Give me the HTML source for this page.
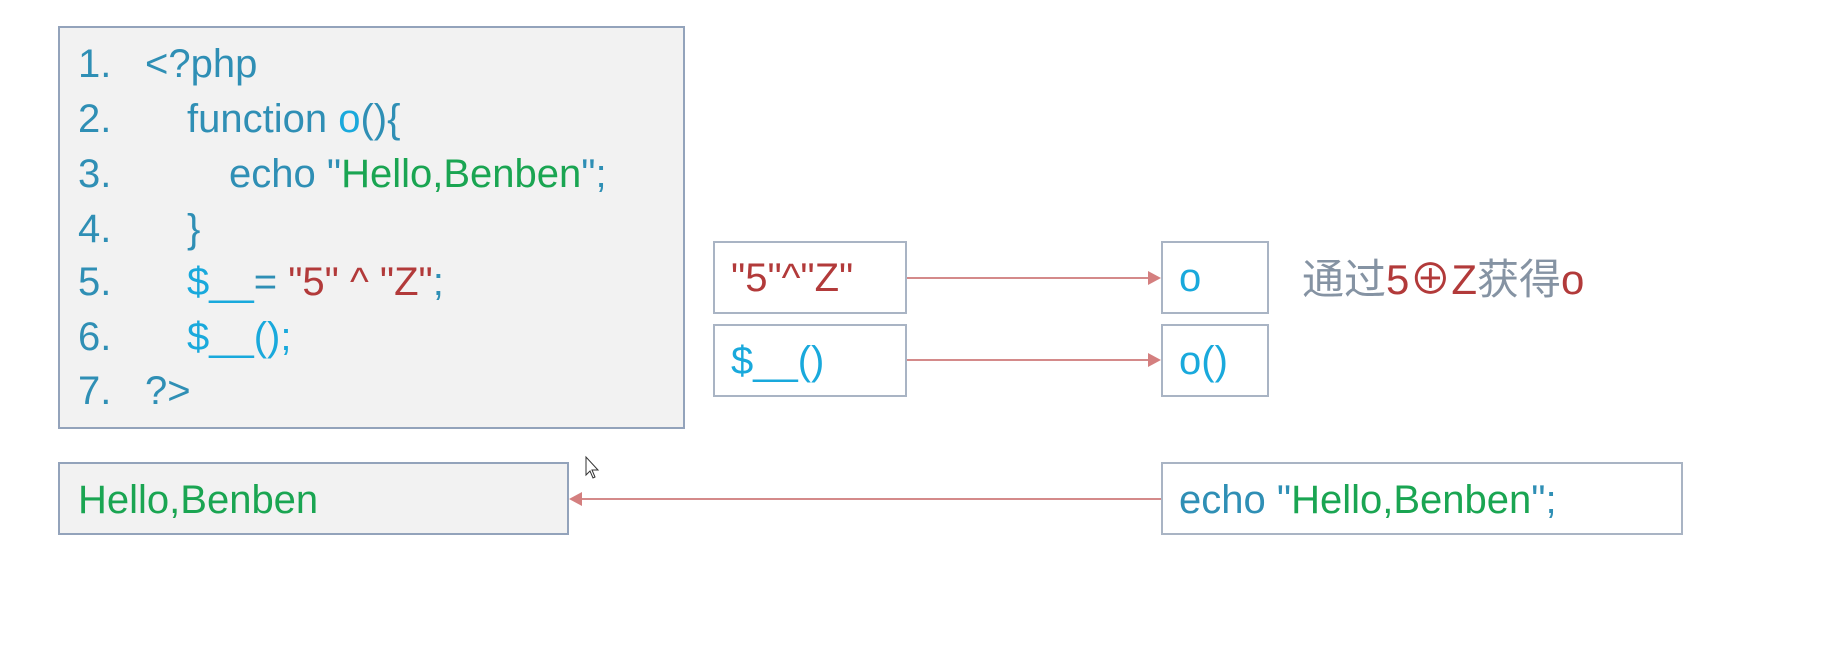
<!DOCTYPE html>
<html><head><meta charset="utf-8"><style>
body{margin:0;width:1829px;height:648px;background:#fff;position:relative;overflow:hidden;font-family:"Liberation Sans","Noto Sans CJK SC",sans-serif}
.b{position:absolute;box-sizing:border-box;border:2px solid #a9b4c4}
.t{position:absolute;font-size:40px;line-height:44px;white-space:nowrap;color:#2f8fb5}
.c{color:#19a9dc}.g{color:#1aa552}.r{color:#b23a3a}.gr{color:#8593a3}
</style></head><body>
<div class="b" style="left:58px;top:26px;width:627px;height:403px;background:#f2f2f2;border-color:#93a3bb"></div>
<div class="t" style="left:78px;top:42px">1.</div><div class="t" style="left:145px;top:42px">&lt;?php</div>
<div class="t" style="left:78px;top:97px">2.</div><div class="t" style="left:187px;top:97px">function <span class="c">o</span>(){</div>
<div class="t" style="left:78px;top:152px">3.</div><div class="t" style="left:229px;top:152px">echo "<span class="g">Hello,Benben</span>";</div>
<div class="t" style="left:78px;top:207px">4.</div><div class="t" style="left:187px;top:207px">}</div>
<div class="t" style="left:78px;top:260px">5.</div><div class="t" style="left:187px;top:260px"><span class="c">$__</span>= <span class="r">"5" ^ "Z"</span>;</div>
<div class="t" style="left:78px;top:315px">6.</div><div class="t c" style="left:187px;top:315px">$__();</div>
<div class="t" style="left:78px;top:369px">7.</div><div class="t" style="left:145px;top:369px">?&gt;</div>

<div class="b" style="left:713px;top:241px;width:194px;height:73px"></div>
<div class="t r" style="left:731px;top:256px">"5"^"Z"</div>
<div class="b" style="left:713px;top:324px;width:194px;height:73px"></div>
<div class="t c" style="left:731px;top:339px">$__()</div>
<div class="b" style="left:1161px;top:241px;width:108px;height:73px"></div>
<div class="t c" style="left:1179px;top:256px">o</div>
<div class="b" style="left:1161px;top:324px;width:108px;height:73px"></div>
<div class="t c" style="left:1179px;top:339px">o()</div>
<div class="t gr" style="left:1302px;top:258px;font-size:42px">通过<span class="r">5⊕Z</span>获得<span class="r">o</span></div>

<div class="b" style="left:58px;top:462px;width:511px;height:73px;background:#f2f2f2;border-color:#93a3bb"></div>
<div class="t g" style="left:78px;top:478px">Hello,Benben</div>
<div class="b" style="left:1161px;top:462px;width:522px;height:73px"></div>
<div class="t" style="left:1179px;top:478px">echo "<span class="g">Hello,Benben</span>";</div>

<svg width="1829" height="648" style="position:absolute;left:0;top:0">
<g stroke="#d48a8a" stroke-width="2" fill="#d47f7f">
<line x1="907" y1="278" x2="1150" y2="278"/><polygon points="1161,278 1148,271 1148,285" stroke="none"/>
<line x1="907" y1="360" x2="1150" y2="360"/><polygon points="1161,360 1148,353 1148,367" stroke="none"/>
<line x1="1161" y1="499" x2="580" y2="499"/><polygon points="569,499 582,492 582,506" stroke="none"/>
</g>
<path d="M586,457 L586,475 L590,471 L593,478 L595,477 L592,470 L598,470 Z" fill="#fff" stroke="#333" stroke-width="1"/>
</svg>
</body></html>
